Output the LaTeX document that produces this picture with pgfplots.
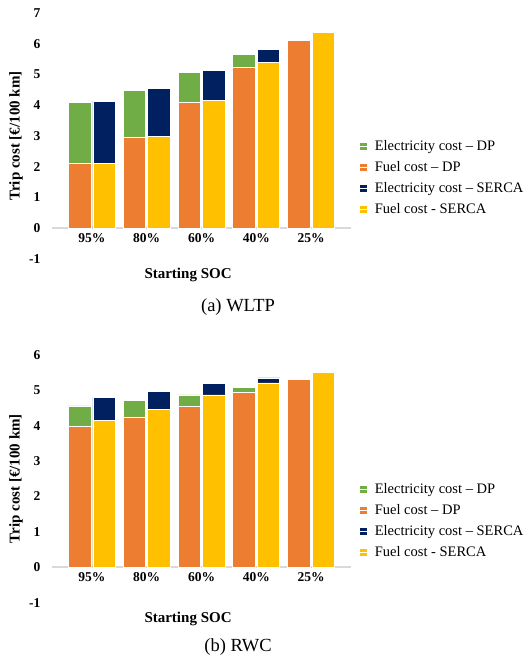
\documentclass[border=0pt]{standalone}
\usepackage{pgfplots}
\pgfplotsset{compat=1.18}
\usepackage{pgfplotstable}
\usepackage{fontspec}
\setmainfont{Liberation Serif}
\definecolor{cGreen}{HTML}{70AD47}
\definecolor{cOrange}{HTML}{ED7D31}
\definecolor{cNavy}{HTML}{002060}
\definecolor{cYellow}{HTML}{FFC000}
\definecolor{cAxis}{HTML}{D9D9D9}

% WLTP: fuel and electricity cost, DP and SERCA
\pgfplotstableread{
idx fDP eDP fSE eSE
0 2.12 1.96 2.12 2.01
1 2.96 1.53 2.98 1.57
2 4.10 0.98 4.16 0.98
3 5.24 0.42 5.39 0.42
4 6.10 0.00 6.37 0.00
}\wltp

% RWC
\pgfplotstableread{
idx fDP eDP fSE eSE
0 3.97 0.59 4.16 0.65
1 4.25 0.47 4.47 0.51
2 4.56 0.31 4.87 0.33
3 4.95 0.13 5.21 0.14
4 5.31 0.00 5.51 0.00
}\rwc

\pgfplotsset{
  sq/.style={legend image code/.code={\fill[##1,draw=none] (0pt,-3.7pt) rectangle (7.4pt,3.7pt); \path (0pt,0pt) -- (12.5pt,0pt);}},
  socaxis/.style={
    scale only axis, width=299pt,
    xmin=-0.73, xmax=4.73,
    ybar, bar width=22.5pt,
    axis x line=middle, axis y line=left,
    x axis line style={draw=cAxis, line width=1.6pt, -},
    y axis line style={draw=none},
    major tick length=0pt, tick style={draw=none},
    xtick={0,1,2,3,4}, xticklabels={95\%,80\%,60\%,40\%,25\%},
    xticklabel style={font=\fontsize{13.5}{16}\selectfont\bfseries, yshift=-2pt},
    yticklabel style={font=\fontsize{13.5}{16}\selectfont\bfseries, xshift=-8pt},
    xlabel={Starting SOC},
    xlabel style={font=\fontsize{15}{18}\selectfont\bfseries, at={(axis description cs:0.455,0)}, anchor=north, yshift=-6pt},
    ylabel={Trip cost [€/100 km]},
    ylabel style={font=\fontsize{15}{18}\selectfont\bfseries, at={(axis description cs:-0.12,0.5)}, anchor=center},
    legend style={at={(axis description cs:1.018,0.33)}, anchor=west, draw=none, fill=none,
      font=\fontsize{14.5}{17}\selectfont, row sep=5.5pt},
    legend cell align=left,
    every axis plot/.append style={draw=white, line width=0.7pt},
  },
}

\begin{document}
\begin{tikzpicture}
\path[use as bounding box] (0pt,0pt) rectangle (523pt,658pt);

\begin{axis}[socaxis, at={(52pt,399pt)}, anchor=south west, height=246pt,
  ymin=-1, ymax=7, ytick={-1,0,1,2,3,4,5,6,7}, yticklabels={{-1},0,1,2,3,4,5,6,7}]
\addplot[fill=cGreen, bar shift=-12.25pt, sq] table[x=idx, y expr=\thisrow{fDP}+\thisrow{eDP}] {\wltp};
\addlegendentry{Electricity cost – DP}
\addplot[fill=cOrange, bar shift=-12.25pt, sq] table[x=idx, y=fDP] {\wltp};
\addlegendentry{Fuel cost – DP}
\addplot[fill=cNavy, bar shift=12.25pt, sq] table[x=idx, y expr=\thisrow{fSE}+\thisrow{eSE}] {\wltp};
\addlegendentry{Electricity cost – SERCA}
\addplot[fill=cYellow, bar shift=12.25pt, sq] table[x=idx, y=fSE] {\wltp};
\addlegendentry{Fuel cost - SERCA}
\end{axis}
\node[font=\fontsize{18.5}{22}\selectfont] at (238pt,351pt) {(a) WLTP};

\begin{axis}[socaxis, at={(52pt,55.4pt)}, anchor=south west, height=247.6pt,
  ymin=-1, ymax=6, ytick={-1,0,1,2,3,4,5,6}, yticklabels={{-1},0,1,2,3,4,5,6}]
\addplot[fill=cGreen, bar shift=-12.25pt, sq] table[x=idx, y expr=\thisrow{fDP}+\thisrow{eDP}] {\rwc};
\addlegendentry{Electricity cost – DP}
\addplot[fill=cOrange, bar shift=-12.25pt, sq] table[x=idx, y=fDP] {\rwc};
\addlegendentry{Fuel cost – DP}
\addplot[fill=cNavy, bar shift=12.25pt, sq] table[x=idx, y expr=\thisrow{fSE}+\thisrow{eSE}] {\rwc};
\addlegendentry{Electricity cost – SERCA}
\addplot[fill=cYellow, bar shift=12.25pt, sq] table[x=idx, y=fSE] {\rwc};
\addlegendentry{Fuel cost - SERCA}
\end{axis}
\node[font=\fontsize{18.5}{22}\selectfont] at (238pt,11pt) {(b) RWC};
\end{tikzpicture}
\end{document}
